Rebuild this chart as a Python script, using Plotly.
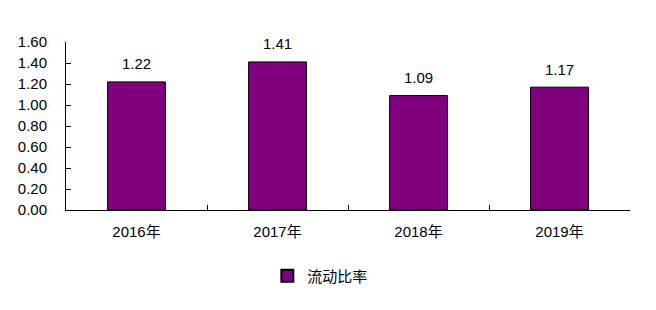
import plotly.graph_objects as go

categories = ["2016年", "2017年", "2018年", "2019年"]
values = [1.22, 1.41, 1.09, 1.17]
series_name = "流动比率"
y_ticks = [0.0, 0.2, 0.4, 0.6, 0.8, 1.0, 1.2, 1.4, 1.6]
y_tick_labels = [f"{v:.2f}" for v in y_ticks]

font_family = "Liberation Sans, Arial, Noto Sans CJK SC, sans-serif"

fig = go.Figure()
fig.add_trace(go.Bar(
    x=categories, y=values, name=series_name,
    marker=dict(color="#800080", line=dict(color="#000000", width=1)),
    width=0.41,
))
for c, v in zip(categories, values):
    fig.add_annotation(x=c, y=v, text=f"{v:.2f}", showarrow=False,
                       yshift=18, font=dict(size=15, color="#000000"))

fig.update_layout(
    width=656, height=310,
    margin=dict(l=66, r=26, t=42, b=100),
    paper_bgcolor="white", plot_bgcolor="white",
    font=dict(family=font_family, size=15, color="#000000"),
    showlegend=True,
    legend=dict(orientation="h", x=0.357, xanchor="left", y=-0.295, yanchor="top",
                font=dict(size=15), itemwidth=30, itemsizing="constant"),
)
fig.update_yaxes(range=[0, 1.6], tickvals=y_ticks, ticktext=y_tick_labels,
                 showgrid=False, zeroline=False, showline=True, linecolor="black",
                 linewidth=1, ticks="inside", ticklen=5, tickcolor="black",
                 tickfont=dict(size=15), ticklabelstandoff=15)
fig.update_xaxes(showgrid=False, showline=True, linecolor="black", linewidth=1,
                 ticks="inside", tickson="boundaries", ticklen=5, tickcolor="black",
                 tickfont=dict(size=15), ticklabelstandoff=8)

fig.write_html("out.html")
